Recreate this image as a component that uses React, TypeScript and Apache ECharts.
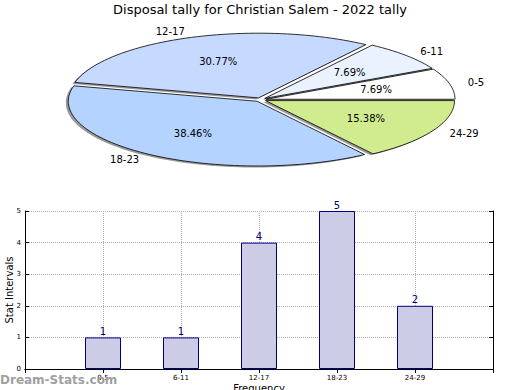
import React, { useEffect, useRef } from 'react';
import * as echarts from 'echarts';

const chartTitle = 'Disposal tally for Christian Salem - 2022 tally';
const categories = ['0-5', '6-11', '12-17', '18-23', '24-29'];
const counts = [1, 1, 4, 5, 2];
const sliceColors = ['#ffffff', '#eaf2ff', '#c6d9ff', '#b4d4ff', '#d1ec8e'];
const yAxisName = 'Stat Intervals';
const xAxisName = 'Frequency';
const watermark = 'Dream-Stats.com';

const FONT = 'DejaVu Sans';
const CX = 260.5;
const CY = 99.7;
const RX = 189;
const RY = 64.7;
const EXPLODE = 0.03;

export default function App() {
  const ref = useRef<HTMLDivElement>(null);
  useEffect(() => {
    if (!ref.current) return;
    const chart = echarts.init(ref.current, null, { renderer: 'svg' });
    const total = counts.reduce((a, b) => a + b, 0);
    const starts: number[] = [];
    let acc = 0;
    counts.forEach((v) => {
      starts.push(acc);
      acc += v;
    });

    const renderItem = (params: any, api: any) => {
      const i = params.dataIndex;
      const v = api.value(0);
      const a0 = (starts[i] / total) * 2 * Math.PI;
      const a1 = ((starts[i] + v) / total) * 2 * Math.PI;
      const mid = (a0 + a1) / 2;
      const cx = CX + EXPLODE * RX * Math.cos(mid);
      const cy = CY - EXPLODE * RY * Math.sin(mid);
      const pts: number[][] = [[cx, cy]];
      const n = Math.max(8, Math.ceil(((a1 - a0) / (2 * Math.PI)) * 180));
      for (let k = 0; k <= n; k++) {
        const a = a0 + ((a1 - a0) * k) / n;
        pts.push([cx + RX * Math.cos(a), cy - RY * Math.sin(a)]);
      }
      const shadowPts = pts.map((p) => [p[0] - 2.5, p[1] + 1.5]);
      const lx = cx + 1.1 * RX * Math.cos(mid);
      const ly = cy - 1.1 * RY * Math.sin(mid);
      const px = cx + 0.6 * RX * Math.cos(mid);
      const py = cy - 0.6 * RY * Math.sin(mid);
      const pct = ((v / total) * 100).toFixed(2) + '%';
      return {
        type: 'group',
        children: [
          {
            type: 'polygon',
            z2: 0,
            silent: true,
            shape: { points: shadowPts },
            style: { fill: 'rgba(0,0,0,0.4)' },
          },
          {
            type: 'polygon',
            z2: 5,
            shape: { points: pts },
            style: { fill: sliceColors[i], stroke: '#000', lineWidth: 0.8 },
          },
          {
            type: 'text',
            z2: 10,
            x: px,
            y: py,
            style: {
              text: pct,
              fill: '#000',
              fontSize: 10,
              fontFamily: FONT,
              align: 'center',
              verticalAlign: 'middle',
            },
          },
          {
            type: 'text',
            z2: 10,
            x: lx,
            y: ly,
            style: {
              text: categories[i],
              fill: '#000',
              fontSize: 10,
              fontFamily: FONT,
              align: Math.cos(mid) < 0 ? 'right' : 'left',
              verticalAlign: 'middle',
            },
          },
        ],
      };
    };

    const xCats = ['', ...categories, ''];
    const barData: any[] = ['-', ...counts, '-'];

    chart.setOption({
      animation: false,
      textStyle: { fontFamily: FONT },
      title: {
        text: chartTitle,
        left: 'center',
        top: 3,
        padding: 0,
        textStyle: { fontSize: 13, fontWeight: 'normal', color: '#000', fontFamily: FONT },
      },
      grid: { left: 25, right: 27, top: 211, bottom: 21, outerBoundsMode: 'none', containLabel: false },
      xAxis: [
        {
          type: 'category',
          data: xCats,
          boundaryGap: false,
          axisLine: { lineStyle: { color: '#000', width: 1 } },
          axisTick: { inside: true, length: 4, lineStyle: { color: '#000' } },
          axisLabel: { fontSize: 7, color: '#000', margin: 5, interval: 0, fontFamily: FONT },
          splitLine: { show: true, lineStyle: { type: 'dotted', color: '#b0b0b0' } },
          name: xAxisName,
          nameLocation: 'middle',
          nameGap: 14,
          nameMoveOverlap: false,
          nameTextStyle: { fontSize: 10, color: '#000', fontFamily: FONT },
        },
        {
          type: 'category',
          position: 'top',
          data: xCats,
          boundaryGap: false,
          axisLine: { lineStyle: { color: '#000', width: 1 } },
          axisTick: { inside: true, length: 4, lineStyle: { color: '#000' } },
          axisLabel: { show: false },
          splitLine: { show: false },
        },
      ],
      yAxis: [
        {
          type: 'value',
          min: 0,
          max: 5,
          interval: 1,
          axisLine: { show: true, lineStyle: { color: '#000', width: 1 } },
          axisTick: { show: true, inside: true, length: 4, lineStyle: { color: '#000' } },
          axisLabel: { fontSize: 7, color: '#000', margin: 4, fontFamily: FONT },
          splitLine: { show: true, lineStyle: { type: 'dotted', color: '#b0b0b0' } },
          name: yAxisName,
          nameLocation: 'middle',
          nameGap: 11,
          nameRotate: 90,
          nameMoveOverlap: false,
          nameTextStyle: { fontSize: 10, color: '#000', fontFamily: FONT },
        },
        {
          type: 'value',
          position: 'right',
          min: 0,
          max: 5,
          interval: 1,
          axisLine: { show: true, lineStyle: { color: '#000', width: 1 } },
          axisTick: { show: true, inside: true, length: 4, lineStyle: { color: '#000' } },
          axisLabel: { show: false },
          splitLine: { show: false },
        },
      ],
      graphic: [
        {
          type: 'text',
          left: 0,
          top: 374,
          z: 100,
          style: {
            text: watermark,
            fill: '#a0a0a0',
            fontSize: 12,
            fontWeight: 'bold',
            fontFamily: FONT,
          },
        },
      ],
      series: [
        {
          type: 'bar',
          xAxisIndex: 0,
          yAxisIndex: 0,
          data: barData,
          barWidth: 36,
          itemStyle: { color: '#ccccE6', borderColor: '#000080', borderWidth: 1 },
          label: {
            show: true,
            position: 'top',
            distance: 1,
            color: '#000080',
            fontSize: 10,
            fontFamily: FONT,
          },
        },
        {
          type: 'custom',
          coordinateSystem: 'none',
          data: counts.map((v) => [v]),
          renderItem,
        },
      ],
    });
    return () => chart.dispose();
  }, []);
  return (
    <div
      ref={ref}
      style={{ position: 'absolute', left: 0, top: 0, width: 520, height: 390 }}
    />
  );
}
